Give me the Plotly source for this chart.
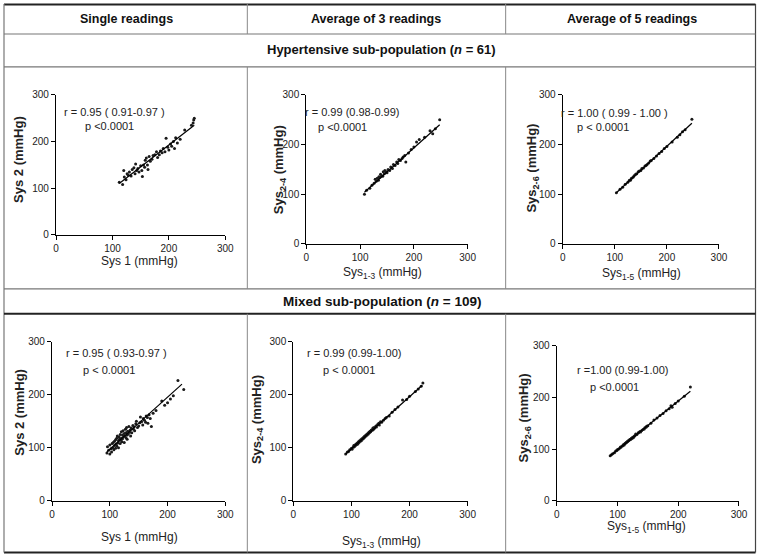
import plotly.graph_objects as go

# ---------------------------------------------------------------
# data (systolic BP, mmHg)
# ---------------------------------------------------------------
# hypertensive sub-population
x1 = [112, 118, 120, 121, 124, 126, 128, 130, 133, 135,
      138, 140, 141, 143, 145, 147, 150, 152, 153, 155,
      157, 158, 160, 162, 163, 165, 167, 170, 172, 175,
      178, 180, 183, 185, 188, 190, 193, 195, 198, 200,
      203, 205, 208, 210, 212, 215, 220, 228, 240, 243,
      244, 245]
y1 = [113, 108, 138, 124, 118, 131, 128, 135, 126, 140,
      144, 131, 152, 138, 142, 135, 148, 138, 125, 150,
      145, 160, 165, 150, 140, 168, 158, 162, 170, 172,
      178, 166, 172, 180, 176, 185, 178, 207, 188, 182,
      195, 190, 200, 185, 208, 197, 205, 225, 235, 240,
      246, 250]

x2 = [108, 112, 118, 122, 126, 128, 130, 132, 134, 135,
      137, 138, 140, 142, 143, 145, 146, 148, 150, 152,
      155, 157, 160, 162, 165, 168, 170, 172, 175, 178,
      180, 183, 185, 190, 195, 200, 205, 210, 220, 230,
      235, 240, 248]
y2 = [100, 108, 112, 118, 122, 130, 126, 132, 128, 135,
      134, 140, 137, 136, 145, 141, 148, 145, 143, 150,
      148, 155, 152, 160, 158, 165, 162, 170, 168, 172,
      175, 178, 165, 183, 190, 195, 205, 210, 215, 228,
      222, 232, 250]

x3 = [103, 110, 115, 120, 125, 128, 130, 132, 135, 137,
      140, 142, 145, 147, 150, 152, 155, 158, 160, 162,
      165, 168, 170, 175, 180, 185, 190, 195, 200, 210,
      220, 225, 230, 235, 248]
y3 = [103, 110, 114, 120, 124, 128, 128, 132, 134, 137,
      140, 141, 145, 147, 148, 152, 153, 157, 158, 160,
      163, 167, 168, 172, 177, 182, 186, 192, 196, 205,
      215, 220, 226, 230, 251]

# mixed sub-population
x4 = [95, 96, 98, 100, 100, 102, 103, 104, 105, 106,
      107, 108, 108, 110, 110, 111, 112, 112, 113, 114,
      115, 115, 116, 117, 118, 118, 119, 120, 120, 121,
      122, 122, 123, 124, 125, 125, 126, 127, 128, 128,
      129, 130, 130, 131, 132, 133, 134, 135, 136, 137,
      138, 140, 141, 142, 143, 145, 146, 148, 150, 152,
      153, 155, 157, 158, 160, 162, 163, 165, 166, 168,
      170, 172, 175, 180, 190, 195, 200, 205, 210, 218,
      228]
y4 = [90, 102, 95, 88, 105, 98, 92, 108, 100, 110,
      96, 104, 112, 99, 115, 107, 118, 103, 122, 109,
      113, 100, 120, 116, 108, 125, 114, 118, 130, 111,
      124, 117, 132, 121, 127, 110, 122, 135, 119, 128,
      138, 124, 116, 131, 126, 140, 129, 133, 122, 137,
      128, 142, 135, 139, 132, 145, 150, 138, 141, 147,
      158, 149, 143, 155, 152, 148, 160, 157, 146, 162,
      155, 140, 165, 170, 188, 180, 185, 192, 198, 227,
      210]

x5 = [90, 93, 95, 97, 100, 101, 103, 104, 105, 106,
      107, 108, 109, 110, 111, 112, 113, 114, 115, 116,
      117, 118, 119, 120, 121, 122, 123, 124, 125, 126,
      127, 128, 129, 130, 131, 132, 133, 134, 135, 136,
      137, 138, 139, 140, 142, 143, 145, 147, 148, 150,
      152, 155, 158, 160, 165, 170, 175, 180, 188, 195,
      200, 210, 215, 220, 223]
y5 = [88, 92, 93, 96, 99, 97, 101, 104, 102, 105,
      104, 107, 106, 109, 107, 111, 110, 113, 112, 115,
      113, 117, 116, 119, 118, 121, 120, 123, 122, 125,
      124, 127, 126, 129, 128, 131, 130, 133, 134, 133,
      137, 135, 138, 137, 141, 139, 144, 146, 143, 149,
      148, 152, 155, 157, 160, 167, 172, 177, 190, 191,
      197, 206, 211, 216, 222]

x6 = [88, 90, 92, 95, 97, 99, 100, 102, 104, 105,
      106, 108, 109, 110, 111, 112, 113, 114, 115, 116,
      117, 118, 119, 120, 121, 122, 123, 124, 125, 126,
      127, 128, 129, 130, 132, 134, 135, 137, 138, 140,
      142, 144, 145, 147, 148, 150, 155, 160, 165, 170,
      175, 180, 185, 188, 190, 195, 200, 210, 220]
y6 = [87, 89, 91, 93, 96, 97, 99, 100, 102, 104,
      104, 106, 107, 109, 108, 110, 111, 112, 113, 114,
      115, 116, 117, 118, 119, 119, 121, 121, 123, 122,
      124, 125, 126, 129, 128, 131, 132, 134, 133, 136,
      138, 139, 141, 142, 144, 145, 150, 156, 160, 165,
      169, 174, 178, 184, 181, 188, 193, 202, 220]

# regression lines (end points)
fit_x = [[112, 245], [108, 248], [103, 248], [95, 225], [90, 222], [88, 220]]
fit_y = [[110, 235], [104, 240], [103, 243], [92, 220], [88, 218], [87, 212]]

r_text = ["r = 0.95 ( 0.91-0.97 )", "r = 0.99 (0.98-0.99)", "r = 1.00 ( 0.99 - 1.00 )",
          "r = 0.95 ( 0.93-0.97 )", "r = 0.99 (0.99-1.00)", "r =1.00 (0.99-1.00)"]
p_text = ["p <0.0001", "p <0.0001", "p < 0.0001",
          "p < 0.0001", "p < 0.0001", "p <0.0001"]

x_titles = ["Sys 1 (mmHg)", "Sys<sub>1-3</sub> (mmHg)", "Sys<sub>1-5</sub> (mmHg)",
            "Sys 1 (mmHg)", "Sys<sub>1-3</sub> (mmHg)", "Sys<sub>1-5</sub> (mmHg)"]
y_titles = ["Sys 2 (mmHg)", "Sys<sub>2-4</sub> (mmHg)", "Sys<sub>2-6</sub> (mmHg)",
            "Sys 2 (mmHg)", "Sys<sub>2-4</sub> (mmHg)", "Sys<sub>2-6</sub> (mmHg)"]

col_heads = ["Single readings", "Average of 3 readings", "Average of 5 readings"]
tick_vals = [0, 100, 200, 300]

# ---------------------------------------------------------------
W, H = 765, 559
FONT = "Liberation Sans, Arial, sans-serif"

# the photographed page comes out ~2% smaller and nudged in by a few px,
# so positions (measured on the reference) are mapped back before use
SX, OX = 0.983, 4.0
SY, OY = 0.981, 5.0


def px(x):
    return min((x - OX) / SX, W - 0.5) / W


def py(y):
    return 1 - min((y - OY) / SY, H - 0.5) / H


# plot areas in reference pixels: (x0, x300, y300, y0)
boxes = [
    (57, 226, 95, 235),
    (307, 468, 95, 244),
    (563, 719, 95, 244),
    (53, 226, 342, 501),
    (294, 468, 342, 501),
    (557, 739, 346, 501),
]
# text positions in reference pixels
ytitle_pos = [(20, 160), (281, 170), (533, 168), (21, 413), (258, 420), (525, 418)]
xtitle_pos = [(140, 261), (383, 273), (642, 274), (140, 537), (382, 542), (647, 527)]
r_pos = [(115, 112), (353, 112), (615, 113), (117, 353), (355, 353), (623, 370)]
p_pos = [(110, 126), (343, 127), (603, 127), (110, 370), (350, 370), (615, 387)]

xs = [x1, x2, x3, x4, x5, x6]
ys = [y1, y2, y3, y4, y5, y6]

fig = go.Figure()
annotations = []


def label(x, y, text, size, angle=0, color="#222"):
    annotations.append(dict(x=px(x), y=py(y), xref="paper", yref="paper",
                            xanchor="center", yanchor="middle", text=text,
                            textangle=angle, showarrow=False,
                            font=dict(family=FONT, size=size, color=color)))


for i in range(6):
    n = "" if i == 0 else str(i + 1)
    fig.add_trace(go.Scatter(
        x=xs[i], y=ys[i], mode="markers",
        marker=dict(size=3, color="#1a1a1a", symbol="circle"),
        xaxis="x" + n, yaxis="y" + n, showlegend=False,
    ))
    fig.add_trace(go.Scatter(
        x=fit_x[i], y=fit_y[i], mode="lines",
        line=dict(color="black", width=1.2),
        xaxis="x" + n, yaxis="y" + n, showlegend=False,
    ))
    x0, x300, y300, y0 = boxes[i]
    ax = dict(range=[0, 300], tickvals=tick_vals, showgrid=False, zeroline=False,
              showline=True, linecolor="black", linewidth=1.3,
              ticks="outside", ticklen=4, tickwidth=1.2, tickcolor="black",
              tickfont=dict(family=FONT, size=10, color="#222"))
    fig.update_layout({
        "xaxis" + n: dict(ax, domain=[px(x0), px(x300)], anchor="y" + n),
        "yaxis" + n: dict(ax, domain=[py(y0), py(y300)], anchor="x" + n),
    })

    label(*ytitle_pos[i], "<b>" + y_titles[i] + "</b>", 13, angle=-90)
    label(*xtitle_pos[i], x_titles[i], 12)
    label(*r_pos[i], r_text[i], 11)
    label(*p_pos[i], p_text[i], 11)

# table headings
for cx, txt in zip([127, 377, 632], col_heads):
    label(cx, 19, "<b>" + txt + "</b>", 12.5, color="#111")
label(382, 50, "<b>Hypertensive sub-population (<i>n</i> = 61)</b>", 13, color="#111")
label(382, 302, "<b>Mixed sub-population (<i>n</i> = 109)</b>", 13.5, color="#111")

# table rules
shapes = []


def rule(xa, ya, xb, yb, w=1, c="#666"):
    shapes.append(dict(type="line", xref="paper", yref="paper",
                       x0=px(xa), y0=py(ya), x1=px(xb), y1=py(yb),
                       line=dict(color=c, width=w)))


rule(5, 4.5, 758, 4.5, 2, "#222")       # top
rule(5, 553, 758, 553, 2, "#222")       # bottom
rule(5, 4, 5, 553, 1.2, "#777")         # left
rule(758, 4, 758, 553, 1.2, "#444")     # right
rule(5, 34, 758, 34, 1.2, "#777")
rule(5, 67, 758, 67, 1.2, "#777")
rule(5, 289, 758, 289, 1.2, "#777")
rule(5, 314, 758, 314, 2, "#222")
for vx in [248, 506]:
    rule(vx, 4, vx, 34, 1, "#888")
    rule(vx, 67, vx, 289, 1, "#888")
    rule(vx, 314, vx, 553, 1, "#888")

fig.update_layout(
    width=W, height=H,
    margin=dict(l=0, r=0, t=0, b=0),
    plot_bgcolor="white", paper_bgcolor="white",
    annotations=annotations, shapes=shapes,
    showlegend=False,
)

# page body has a default 8px margin; drop it so the figure starts at the corner
fig.write_html("out.html", config={"displayModeBar": False},
               post_script="document.body.style.margin = '0px';")
